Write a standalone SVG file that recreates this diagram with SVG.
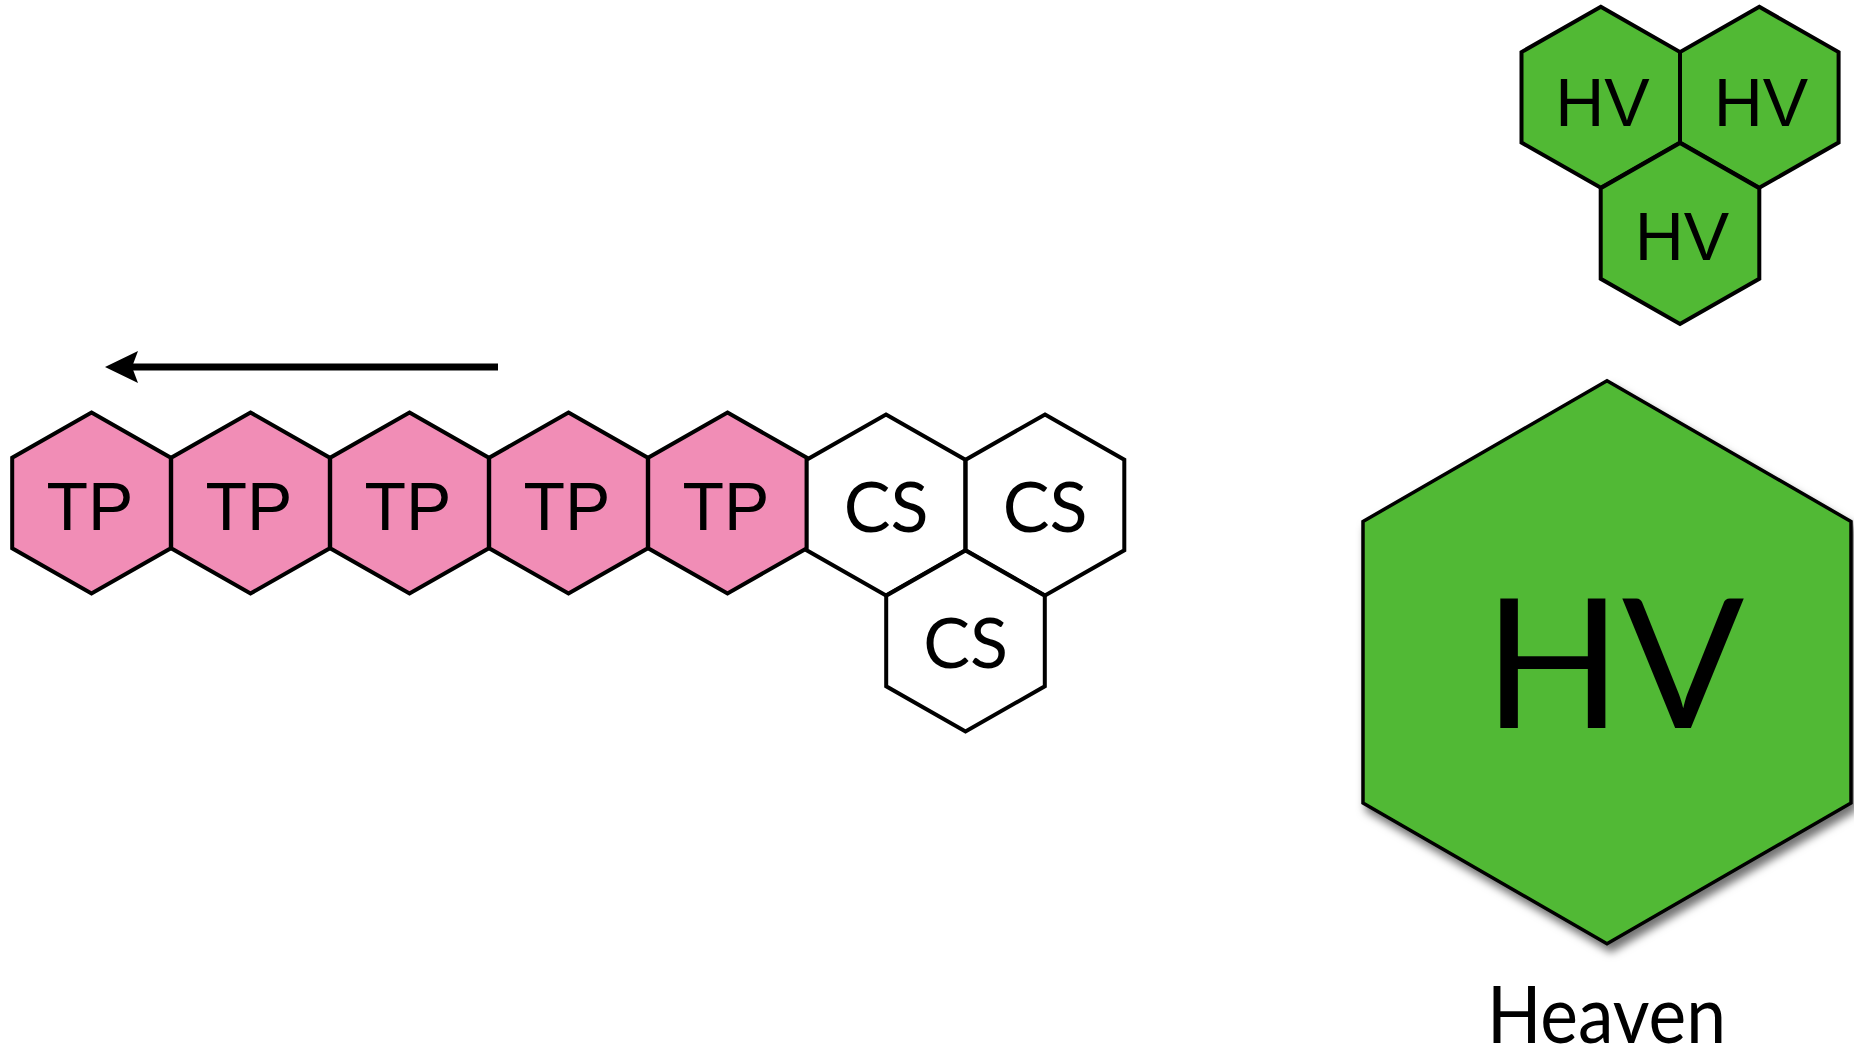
<svg xmlns="http://www.w3.org/2000/svg" xmlns:xlink="http://www.w3.org/1999/xlink" width="1854" height="1049" viewBox="0 0 1854 1049">
  <style>
    .tp { fill: #F18DB6; stroke: #000; stroke-width: 4; stroke-linejoin: miter; }
    .cs { fill: #FFFFFF; stroke: #000; stroke-width: 4; stroke-linejoin: miter; }
    .hv { fill: #51B934; stroke: #000; stroke-width: 4; stroke-linejoin: miter; }
    .hvbig { fill: #51B934; stroke: #000; stroke-width: 3.5; stroke-linejoin: miter; }
    .lbl { font-family: "Liberation Sans", Arial, sans-serif; font-size: 68px; fill: #000; text-anchor: middle; }
    .lblg { font-family: Lato, "Open Sans", sans-serif; font-size: 70px; fill: #000; text-anchor: middle; }
    .arrow { fill: none; stroke: #000; stroke-width: 7; }
  </style>
  <defs>
    <path id="hex" d="M0,-90.5 L79.3,-45.25 L79.3,45.25 L0,90.5 L-79.3,45.25 L-79.3,-45.25 Z"/>
    <marker id="head" markerUnits="userSpaceOnUse" viewBox="-8 -18 38 36" markerWidth="38" markerHeight="36" refX="0" refY="0" orient="auto">
      <path d="M27,0 L-6,-16 L0,0 L-6,16 Z" fill="#000"/>
    </marker>
    <filter id="shadow" x="-10%" y="-10%" width="125%" height="125%">
      <feDropShadow dx="4" dy="7" stdDeviation="4" flood-color="#000" flood-opacity="0.55"/>
    </filter>
  </defs>

  <g id="connectors">
    <path class="arrow" d="M498,367 L132,367" marker-end="url(#head)"/>
  </g>

  <g id="tp1"><use xlink:href="#hex" href="#hex" class="tp" x="91.5" y="503"/><text class="lbl" x="90" y="530">TP</text></g>
  <g id="tp2"><use xlink:href="#hex" href="#hex" class="tp" x="250.5" y="503"/><text class="lbl" x="249" y="530">TP</text></g>
  <g id="tp3"><use xlink:href="#hex" href="#hex" class="tp" x="409.5" y="503"/><text class="lbl" x="408" y="530">TP</text></g>
  <g id="tp4"><use xlink:href="#hex" href="#hex" class="tp" x="568.5" y="503"/><text class="lbl" x="567" y="530">TP</text></g>
  <g id="tp5"><use xlink:href="#hex" href="#hex" class="tp" x="727.5" y="503"/><text class="lbl" x="726" y="530">TP</text></g>

  <g id="cs1"><use xlink:href="#hex" href="#hex" class="cs" x="886" y="505"/><text class="lblg" x="886" y="532">CS</text></g>
  <g id="cs2"><use xlink:href="#hex" href="#hex" class="cs" x="1045" y="505"/><text class="lblg" x="1045" y="532">CS</text></g>
  <g id="cs3"><use xlink:href="#hex" href="#hex" class="cs" x="965.5" y="641"/><text class="lblg" x="965.5" y="668">CS</text></g>

  <g id="hv1"><use xlink:href="#hex" href="#hex" class="hv" x="1600.8" y="97.3"/><text class="lbl" x="1602.5" y="125.5">HV</text></g>
  <g id="hv2"><use xlink:href="#hex" href="#hex" class="hv" x="1759.3" y="97.3"/><text class="lbl" x="1761" y="125.5">HV</text></g>
  <g id="hv3"><use xlink:href="#hex" href="#hex" class="hv" x="1680" y="233.5"/><text class="lbl" x="1682" y="260">HV</text></g>

  <g id="heaven">
    <path class="hvbig" filter="url(#shadow)" d="M1607,380.7 L1851,521.5 L1851,803 L1607,943.7 L1363,803 L1363,521.5 Z"/>
    <text x="1614" y="728" style="font-family: Lato, 'Open Sans', sans-serif; font-size: 181px; fill: #000; text-anchor: middle;">HV</text>
    <text x="1606.5" y="1043" textLength="239" lengthAdjust="spacingAndGlyphs" style="font-family: Lato, 'Open Sans', sans-serif; font-size: 79px; fill: #000; text-anchor: middle;">Heaven</text>
  </g>
</svg>
